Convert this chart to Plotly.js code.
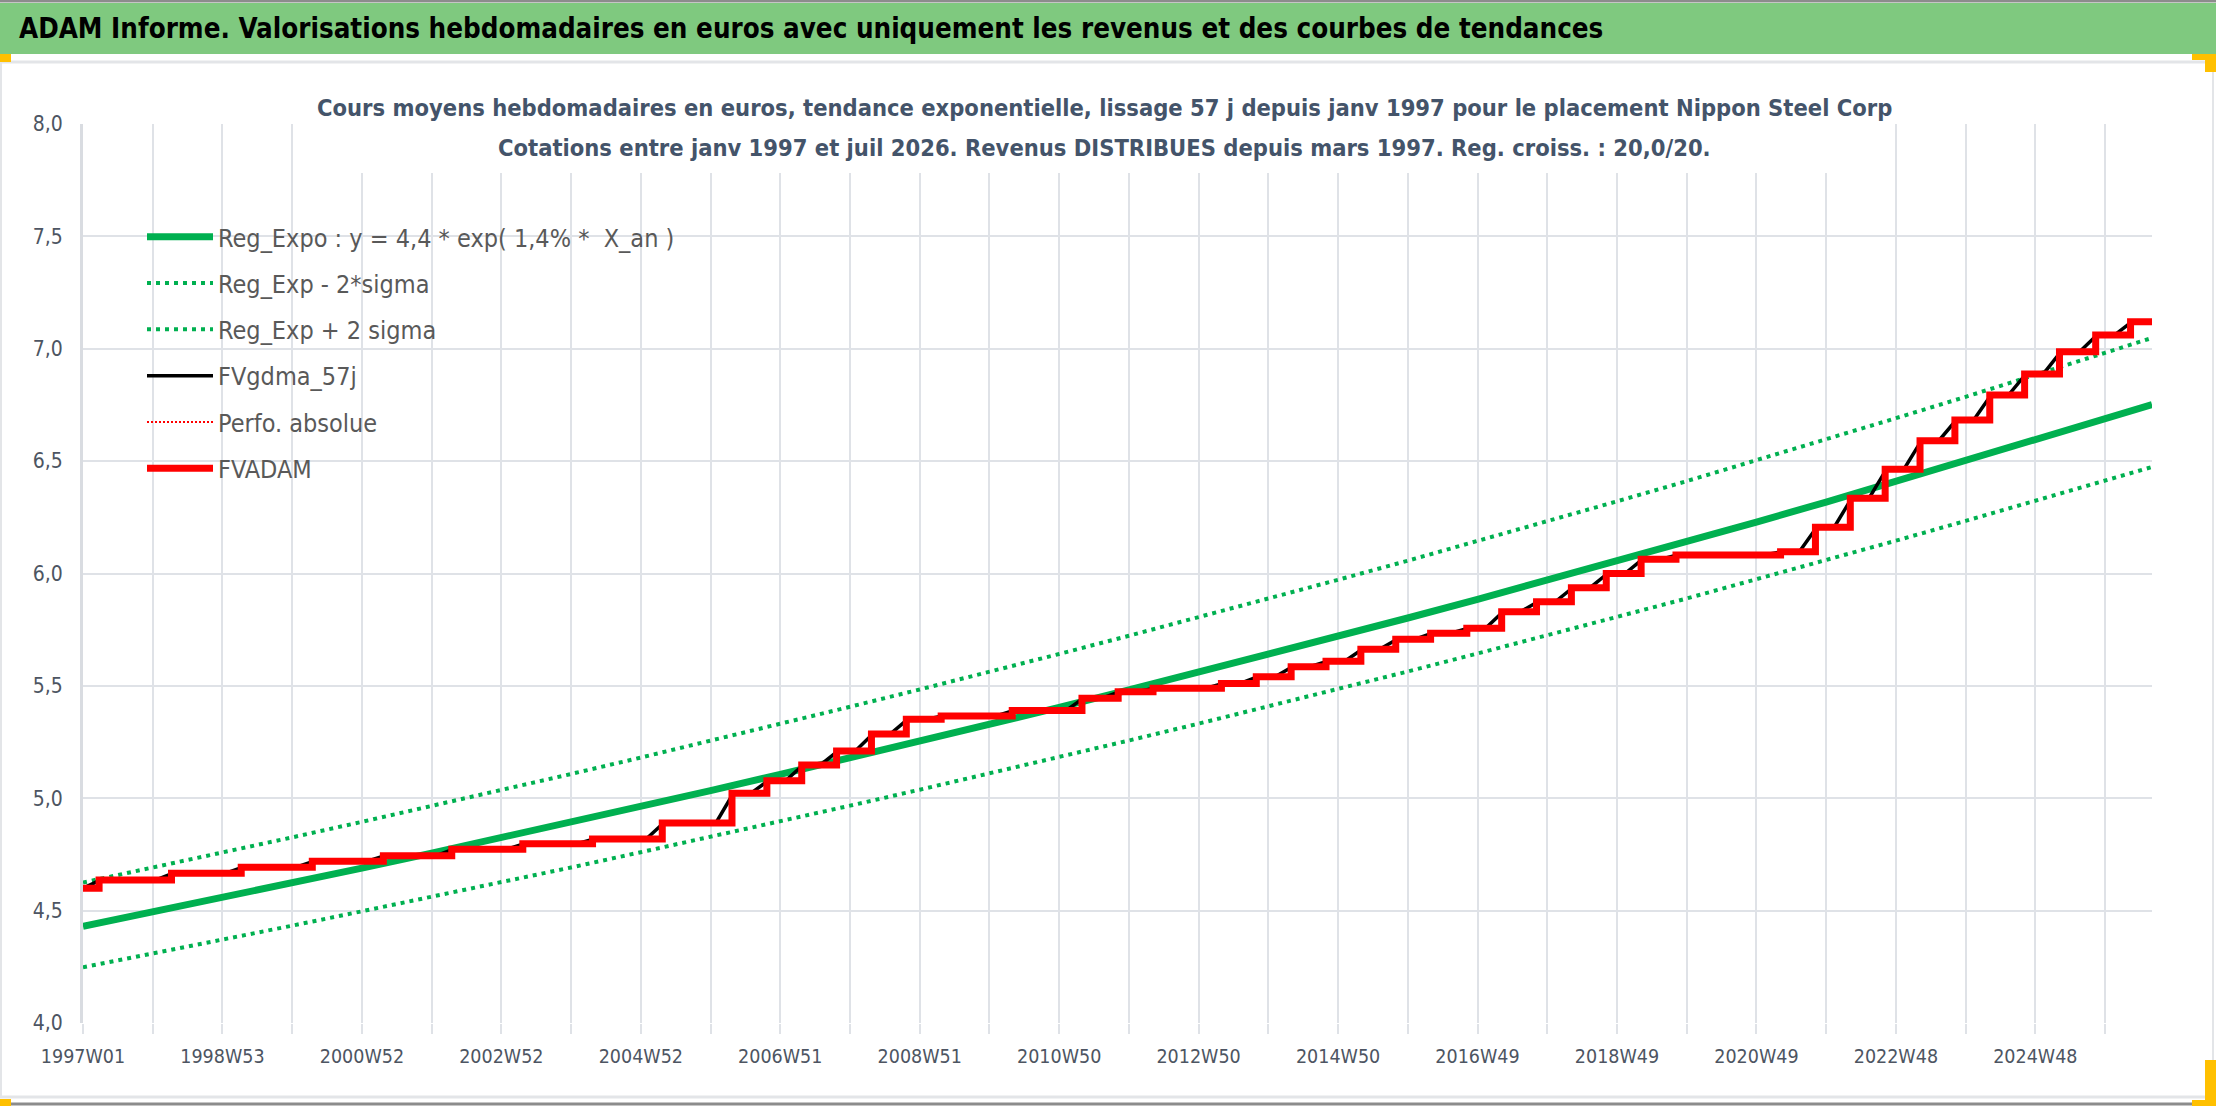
<!DOCTYPE html>
<html>
<head>
<meta charset="utf-8">
<script src="https://cdn.plot.ly/plotly-3.0.1.min.js"></script>
<style>
  html, body { margin: 0; padding: 0; background: #ffffff; }
  #plot { width: 2216px; height: 1106px; }
</style>
</head>
<body>
<div id="plot"></div>
<script>
// Week index 0 = 1997W01, last point = juil 2026
//
const tickWeeks = [0, 104, 208, 312, 416, 520, 624, 728, 832, 936, 1040, 1144, 1248, 1352, 1456];
const tickLabels = ['1997W01', '1998W53', '2000W52', '2002W52', '2004W52', '2006W51', '2008W51',
                    '2010W50', '2012W50', '2014W50', '2016W49', '2018W49', '2020W49', '2022W48', '2024W48'];

// exponential trend and +/- 2 sigma channel, one reading per year
//
const regWeeks = [0, 52, 104, 156, 208, 260, 312, 364, 416, 468, 520, 572, 624, 676, 728, 780,
                  832, 884, 936, 988, 1040, 1092, 1144, 1196, 1248, 1300, 1352, 1404, 1456, 1508, 1543];
const regExpo = [4.430, 4.493, 4.558, 4.623, 4.689, 4.756, 4.824, 4.893, 4.963, 5.034, 5.106,
                 5.179, 5.253, 5.328, 5.404, 5.482, 5.560, 5.640, 5.720, 5.802, 5.885, 5.969,
                 6.055, 6.141, 6.229, 6.318, 6.409, 6.500, 6.593, 6.687, 6.751];
const regLow = [4.248, 4.309, 4.371, 4.433, 4.497, 4.561, 4.626, 4.692, 4.760, 4.828, 4.897,
                4.967, 5.038, 5.110, 5.182, 5.257, 5.332, 5.409, 5.485, 5.564, 5.644, 5.724,
                5.807, 5.889, 5.974, 6.059, 6.146, 6.234, 6.323, 6.413, 6.474];
const regHigh = [4.625, 4.691, 4.759, 4.826, 4.895, 4.965, 5.036, 5.108, 5.181, 5.255, 5.331,
                 5.407, 5.484, 5.562, 5.642, 5.723, 5.805, 5.888, 5.972, 6.057, 6.144, 6.232,
                 6.321, 6.411, 6.503, 6.596, 6.691, 6.786, 6.883, 6.981, 7.048];

// FVADAM: value reached at each distribution week (drawn as steps)
//
const stepWeeks = [0, 12, 66, 118, 171, 224, 275, 328, 380, 432, 484, 510, 536, 562, 588, 614,
                   640, 693, 745, 772, 798, 849, 875, 901, 927, 953, 979, 1005, 1032, 1058, 1084,
                   1110, 1136, 1162, 1188, 1266, 1292, 1318, 1344, 1370, 1396, 1422, 1448, 1474,
                   1501, 1527, 1543];
const fvadam = [4.600, 4.636, 4.666, 4.693, 4.720, 4.744, 4.773, 4.797, 4.819, 4.890, 5.022,
                5.078, 5.148, 5.210, 5.286, 5.351, 5.366, 5.390, 5.445, 5.474, 5.489, 5.511,
                5.541, 5.585, 5.610, 5.663, 5.707, 5.734, 5.756, 5.830, 5.874, 5.937, 6.000,
                6.063, 6.082, 6.097, 6.206, 6.335, 6.464, 6.591, 6.683, 6.794, 6.888, 6.987,
                7.061, 7.120, 7.120];

// FVgdma_57j: smoothed curve, ramps just before each step
//
const gdmaWeeks = [0, 13, 54, 67, 106, 119, 159, 172, 212, 225, 263, 276, 316, 329, 368, 381,
                   420, 433, 472, 485, 498, 511, 524, 537, 550, 563, 576, 589, 602, 615, 628, 641,
                   681, 694, 733, 746, 760, 773, 786, 799, 837, 850, 863, 876, 889, 902, 915, 928,
                   941, 954, 967, 980, 993, 1006, 1020, 1033, 1046, 1059, 1072, 1085, 1098, 1111,
                   1124, 1137, 1150, 1163, 1176, 1189, 1254, 1267, 1280, 1293, 1306, 1319, 1332,
                   1345, 1358, 1371, 1384, 1397, 1410, 1423, 1436, 1449, 1462, 1475, 1489, 1502,
                   1515, 1528, 1543];
const gdma = [4.600, 4.636, 4.636, 4.666, 4.666, 4.693, 4.693, 4.720, 4.720, 4.744, 4.744, 4.773,
              4.773, 4.797, 4.797, 4.819, 4.819, 4.890, 4.890, 5.022, 5.022, 5.078, 5.078, 5.148,
              5.148, 5.210, 5.210, 5.286, 5.286, 5.351, 5.351, 5.366, 5.366, 5.390, 5.390, 5.445,
              5.445, 5.474, 5.474, 5.489, 5.489, 5.511, 5.511, 5.541, 5.541, 5.585, 5.585, 5.610,
              5.610, 5.663, 5.663, 5.707, 5.707, 5.734, 5.734, 5.756, 5.756, 5.830, 5.830, 5.874,
              5.874, 5.937, 5.937, 6.000, 6.000, 6.063, 6.063, 6.082, 6.082, 6.097, 6.097, 6.206,
              6.206, 6.335, 6.335, 6.464, 6.464, 6.591, 6.591, 6.683, 6.683, 6.794, 6.794, 6.888,
              6.888, 6.987, 6.987, 7.061, 7.061, 7.120, 7.120];

const seriesNames = ['Reg_Expo : y = 4,4 * exp( 1,4% *  X_an )', 'Reg_Exp - 2*sigma',
                     'Reg_Exp + 2 sigma', 'FVgdma_57j', 'Perfo. absolue', 'FVADAM'];

const headerText = 'ADAM Informe. Valorisations hebdomadaires en euros avec uniquement les revenus et des courbes de tendances';
const subTitle1 = 'Cours moyens hebdomadaires en euros, tendance exponentielle, lissage 57 j depuis janv 1997 pour le placement Nippon Steel Corp';
const subTitle2 = 'Cotations entre janv 1997 et juil 2026. Revenus DISTRIBUES depuis mars 1997. Reg. croiss. : 20,0/20.';

// page geometry (pixels) of the plot area
//
const W = 2216, H = 1106;
const PL = 83, PR = 2152, PT = 124, PB = 1023;
const xp = (px) => (px - PL) / (PR - PL);
const yp = (py) => (PB - py) / (PB - PT);

const FONT = '"Liberation Sans Narrow", "DejaVu Sans Condensed", "Arial Narrow", sans-serif';
const GREEN = '#00b050';
const GRID = '#dfe2e7';

// Build the traces
//
const traces = [
  { x: regWeeks, y: regExpo, name: seriesNames[0], mode: 'lines', legendgroup: 'a',
    line: { color: GREEN, width: 7 } },
  { x: regWeeks, y: regLow, name: seriesNames[1], mode: 'lines', legendgroup: 'b',
    line: { color: GREEN, width: 4, dash: '4px,5px' } },
  { x: regWeeks, y: regHigh, name: seriesNames[2], mode: 'lines', legendgroup: 'c',
    line: { color: GREEN, width: 4, dash: '4px,5px' } },
  { x: gdmaWeeks, y: gdma, name: seriesNames[3], mode: 'lines', legendgroup: 'd',
    line: { color: '#000000', width: 3.5 } },
  { x: stepWeeks, y: fvadam, name: seriesNames[4], mode: 'lines', legendgroup: 'e',
    line: { color: '#ff0000', width: 2, dash: '2px,2px', shape: 'hv' } },
  { x: stepWeeks, y: fvadam, name: seriesNames[5], mode: 'lines', legendgroup: 'f',
    line: { color: '#ff0000', width: 7, shape: 'hv' } }
];

// Frame, header band and title box
//
const shapes = [
  { type: 'rect', xref: 'paper', yref: 'paper', x0: xp(0), x1: xp(W), y0: yp(3), y1: yp(54),
    fillcolor: '#7fc97f', line: { width: 0 }, layer: 'above' },
  { type: 'line', xref: 'paper', yref: 'paper', x0: xp(0), x1: xp(W), y0: yp(1), y1: yp(1),
    line: { color: '#8c8c8c', width: 3 } },
  { type: 'line', xref: 'paper', yref: 'paper', x0: xp(0), x1: xp(W), y0: yp(62), y1: yp(62),
    line: { color: '#e3e5e8', width: 3 } },
  { type: 'line', xref: 'paper', yref: 'paper', x0: xp(0), x1: xp(W), y0: yp(1097), y1: yp(1097),
    line: { color: '#e3e5e8', width: 3 } },
  { type: 'line', xref: 'paper', yref: 'paper', x0: xp(0), x1: xp(W), y0: yp(1104), y1: yp(1104),
    line: { color: '#8c8c8c', width: 3 } },
  { type: 'line', xref: 'paper', yref: 'paper', x0: xp(1), x1: xp(1), y0: yp(62), y1: yp(1097),
    line: { color: '#e3e5e8', width: 2 } },
  { type: 'line', xref: 'paper', yref: 'paper', x0: xp(2213), x1: xp(2213), y0: yp(62), y1: yp(1097),
    line: { color: '#e3e5e8', width: 2 } },
  { type: 'rect', xref: 'paper', yref: 'paper', x0: xp(0), x1: xp(11), y0: yp(54), y1: yp(62),
    fillcolor: '#ffc000', line: { width: 0 } },
  { type: 'rect', xref: 'paper', yref: 'paper', x0: xp(2192), x1: xp(2216), y0: yp(54), y1: yp(60),
    fillcolor: '#ffc000', line: { width: 0 } },
  { type: 'rect', xref: 'paper', yref: 'paper', x0: xp(2205), x1: xp(2216), y0: yp(54), y1: yp(72),
    fillcolor: '#ffc000', line: { width: 0 } },
  { type: 'rect', xref: 'paper', yref: 'paper', x0: xp(0), x1: xp(11), y0: yp(1099), y1: yp(1106),
    fillcolor: '#ffc000', line: { width: 0 } },
  { type: 'rect', xref: 'paper', yref: 'paper', x0: xp(2205), x1: xp(2216), y0: yp(1060), y1: yp(1106),
    fillcolor: '#ffc000', line: { width: 0 } },
  { type: 'rect', xref: 'paper', yref: 'paper', x0: xp(2192), x1: xp(2216), y0: yp(1100), y1: yp(1106),
    fillcolor: '#ffc000', line: { width: 0 } },
  { type: 'rect', xref: 'paper', yref: 'paper', x0: xp(315), x1: xp(1894), y0: yp(96), y1: yp(173),
    fillcolor: '#ffffff', line: { width: 0 }, layer: 'above' }
];

const annotations = [
  { xref: 'paper', yref: 'paper', x: xp(17), y: yp(28), xanchor: 'left', yanchor: 'middle',
    text: headerText, showarrow: false,
    font: { family: FONT, size: 27.5, color: '#000000', weight: 'bold' } },
  { xref: 'paper', yref: 'paper', x: xp(1104), y: yp(108), xanchor: 'center', yanchor: 'middle',
    text: subTitle1, showarrow: false,
    font: { family: FONT, size: 23.5, color: '#44546a', weight: 'bold' } },
  { xref: 'paper', yref: 'paper', x: xp(1104), y: yp(148), xanchor: 'center', yanchor: 'middle',
    text: subTitle2, showarrow: false,
    font: { family: FONT, size: 23.5, color: '#44546a', weight: 'bold' } }
];

const layout = {
  width: W,
  height: H,
  separators: ', ',
  paper_bgcolor: '#ffffff',
  plot_bgcolor: '#ffffff',
  margin: { l: PL, r: W - PR, t: PT, b: H - PB, pad: 0 },
  font: { family: FONT, color: '#595959' },
  showlegend: true,
  legend: {
    x: xp(142), y: yp(214), xanchor: 'left', yanchor: 'top',
    bgcolor: 'rgba(0,0,0,0)', tracegroupgap: 10.8, itemwidth: 66,
    font: { family: FONT, size: 25, color: '#595959' }
  },
  xaxis: {
    type: 'linear',
    range: [0, 1543],
    tickmode: 'array',
    tickvals: tickWeeks,
    ticktext: tickLabels,
    ticks: 'outside', ticklen: 10, tickcolor: GRID, tickwidth: 2,
    showgrid: true, gridcolor: GRID, gridwidth: 2,
    minor: { dtick: 52, tick0: 0, showgrid: true, gridcolor: GRID, gridwidth: 2,
             ticks: 'outside', ticklen: 10, tickcolor: GRID, tickwidth: 2 },
    zeroline: false,
    showline: false,
    ticklabelstandoff: 6,
    tickfont: { family: FONT, size: 19.5, color: '#4d5562' }
  },
  yaxis: {
    range: [4, 8],
    dtick: 0.5,
    tick0: 4,
    tickformat: '.1f',
    showgrid: true, gridcolor: GRID, gridwidth: 2,
    zeroline: false,
    showline: true, linecolor: '#d9dce1', linewidth: 3,
    ticks: '',
    ticklabelstandoff: 13,
    tickfont: { family: FONT, size: 21, color: '#4d5562' }
  },
  shapes: shapes,
  annotations: annotations
};

const config = { displayModeBar: false, staticPlot: true };

Plotly.newPlot(document.getElementById('plot'), traces, layout, config);
</script>
</body>
</html>
